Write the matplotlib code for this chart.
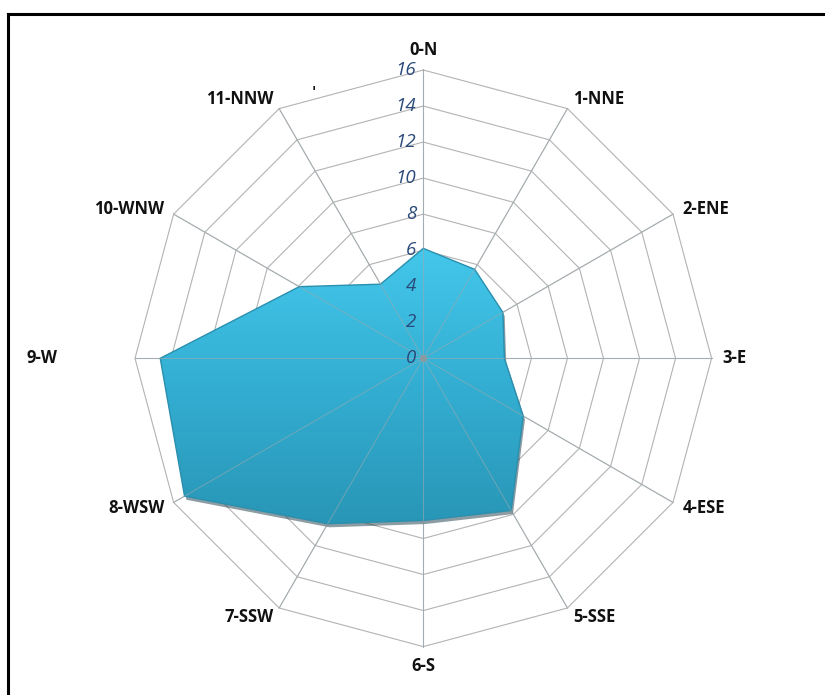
import numpy as np
import matplotlib
matplotlib.use("Agg")
import matplotlib.pyplot as plt
from matplotlib.patches import Polygon
from matplotlib.lines import Line2D

# wind direction categories and values
directions = ["0-N", "1-NNE", "2-ENE", "3-E", "4-ESE", "5-SSE",
              "6-S", "7-SSW", "8-WSW", "9-W", "10-WNW", "11-NNW"]
values = [6.1, 5.7, 5.1, 4.5, 6.4, 9.75, 9.0, 10.6, 15.3, 14.6, 7.95, 4.75]
ticks = [0, 2, 4, 6, 8, 10, 12, 14, 16]
r_max = 16


def to_xy(r, theta):
    # compass angle: 0 at top, clockwise
    return r * np.sin(theta), r * np.cos(theta)


fig = plt.figure(figsize=(8.25, 6.95), dpi=100)
ax = fig.add_axes([0, 0, 1, 1])
px = 288.3 / r_max  # pixels per unit
cx, cy = 423.3, 358.3
ax.set_xlim(-cx / px, (825 - cx) / px)
ax.set_ylim(-(695 - cy) / px, cy / px)
ax.axis("off")

n = len(directions)
theta = np.arange(n) * 2 * np.pi / n

# polygon grid
grid_col = "#b3b3b3"
for t in ticks[1:]:
    gx, gy = to_xy(np.full(n + 1, t), np.append(theta, theta[0]))
    ax.plot(gx, gy, color=grid_col, lw=0.8, zorder=1)
for th in theta:
    sx, sy = to_xy(np.array([0, r_max]), np.array([th, th]))
    ax.plot(sx, sy, color=grid_col, lw=0.8, zorder=1)

# data polygon: shadow, gradient fill, edge
px_, py_ = to_xy(np.array(values), theta)
pts = np.column_stack([px_, py_])
shadow = Polygon(pts + np.array([0.1, -0.2]), closed=True,
                 facecolor="#1a3a48", edgecolor="none", alpha=0.5, zorder=2)
ax.add_patch(shadow)
poly = Polygon(pts, closed=True, facecolor="none", edgecolor="#2b8fae",
               lw=1.0, zorder=4)
ax.add_patch(poly)
grad = np.linspace(0, 1, 256).reshape(-1, 1)
cmap = matplotlib.colors.LinearSegmentedColormap.from_list(
    "fill", ["#2996b6", "#33aed2", "#43c7eb"])
img = ax.imshow(grad, cmap=cmap, origin="lower", aspect="auto",
                extent=[px_.min(), px_.max(), py_.min(), py_.max()], zorder=3)
img.set_clip_path(poly)

# spokes show faintly over the fill
for th in theta:
    sx, sy = to_xy(np.array([0, r_max]), np.array([th, th]))
    ax.plot(sx, sy, color="#9aaab0", lw=0.7, alpha=0.6, zorder=5)
ax.plot(0, 0, "o", color="#8c9aa0", ms=4, zorder=6)

# radial tick labels
for t in ticks:
    ax.text(-0.4, t, str(t), ha="right", va="center", fontsize=13.5,
            style="italic", color="#2a4a7a", family="Open Sans", zorder=7)

# category labels
label_r = 16.6
for name, th in zip(directions, theta):
    lx, ly = to_xy(label_r, th)
    s = np.sin(th)
    if abs(s) < 0.01:
        ha = "center"
    elif s > 0:
        ha = "left"
    else:
        ha = "right"
    c = np.cos(th)
    va = "bottom" if c > 0.99 else ("top" if c < -0.99 else "center")
    if name == "9-W":
        lx -= 3.7
    ax.text(lx, ly, name, ha=ha, va=va, fontsize=12, fontweight="bold",
            family="Open Sans", color="#111111", zorder=7)
ax.text((314 - cx) / px, (cy - 92) / px, "'", ha="center", va="center",
        fontsize=10, fontweight="bold", color="#111111")

# chart frame (left and top edges)
fig.add_artist(Line2D([8 / 825, 8 / 825], [0, 1 - 14 / 695],
                      transform=fig.transFigure, color="black", lw=2.2))
fig.add_artist(Line2D([8 / 825, 1], [1 - 14 / 695, 1 - 14 / 695],
                      transform=fig.transFigure, color="black", lw=2.2))

fig.savefig("out.png", dpi=100)
